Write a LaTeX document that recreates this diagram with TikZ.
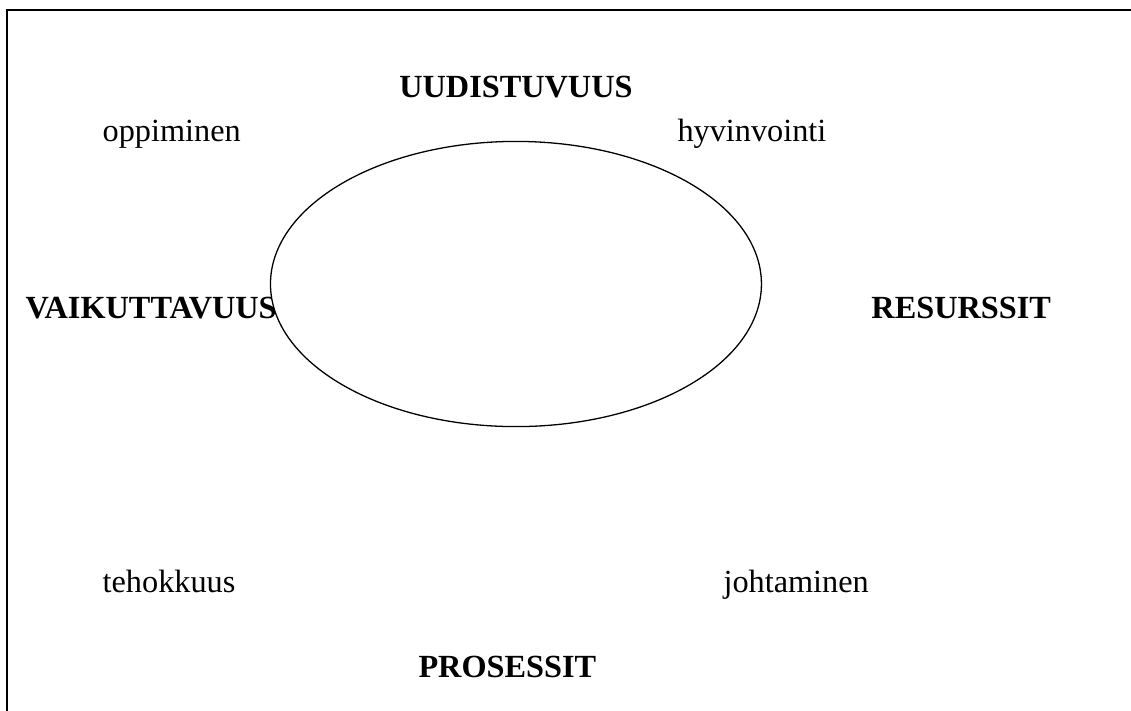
\documentclass[tikz,border=0pt]{standalone}
\usepackage{fontspec}
\setmainfont{Liberation Serif}
\usepackage{tikz}

\begin{document}
\begin{tikzpicture}[every node/.style={font=\fontsize{12.5}{15}\selectfont, inner sep=0pt, anchor=base west},
  iso/.style={font=\fontsize{12.5}{15}\selectfont\bfseries}]
  \useasboundingbox (0,0) rectangle (15.388,-9.673);

  % Kehys
  \draw[line width=0.8pt] (0.095,-9.673) -- (0.095,-0.136) -- (15.388,-0.136);

  % Otsikot
  \node[iso, anchor=base] (uud) at (7.020,-1.333) {UUDISTUVUUS};
  \node[iso] (vai) at (0.340,-4.330) {VAIKUTTAVUUS};
  \node[iso] (res) at (11.850,-4.330) {RESURSSIT};
  \node[iso] (pro) at (5.687,-9.220) {PROSESSIT};

  % Sanat
  \node (opp) at (1.390,-1.930) {oppiminen};
  \node (hyv) at (9.211,-1.930) {hyvinvointi};
  \node (teh) at (1.390,-8.060) {tehokkuus};
  \node (joh) at (9.837,-8.060) {johtaminen};

  % Ellipsi (peittää tekstin reunan)
  \draw[line width=0.5pt, fill=white] (7.020,-3.864) ellipse (3.340 and 1.940);
\end{tikzpicture}
\end{document}
